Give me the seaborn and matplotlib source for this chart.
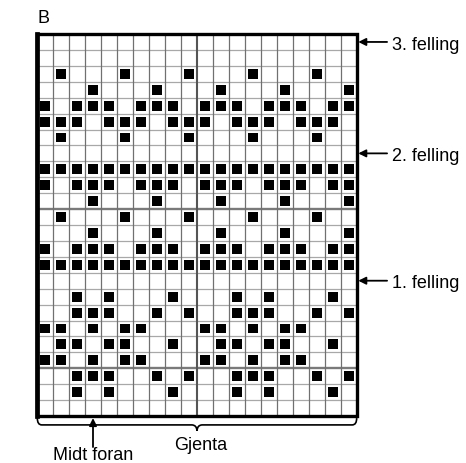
import numpy as np
import seaborn as sns
import matplotlib.pyplot as plt
from matplotlib.colors import ListedColormap
from matplotlib.patches import Rectangle, PathPatch
from matplotlib.path import Path

# chart B, top row first, '#' = black square
pattern = [
    "....................",
    "....................",
    ".#...#...#...#...#..",
    "...#...#...#...#...#",
    "#.###.###.###.###.##",
    "###.###.###.###.###.",
    ".#...#...#...#...#..",
    "....................",
    "####################",
    "#.###.###.###.###.##",
    "...#...#...#...#...#",
    ".#...#...#...#...#..",
    "...#...#...#...#...#",
    "#.###.###.###.###.##",
    "####################",
    "....................",
    "..#.#...#...#.#...#.",
    "..###..#.#..###..#.#",
    "##.#.##...##.#.##...",
    ".##.##..#..##.##..#.",
    "##.#.##...##.#.##...",
    "..###..#.#..###..#.#",
    "..#.#...#...#.#...#.",
    "....................",
]
felling_rows = [1, 8, 16]
felling_labels = ['3. felling', '2. felling', '1. felling']
thick_rows = [11, 21]
mid_front_col = 4
panel_label = 'B'
repeat_label = 'Gjenta'
mid_front_label = 'Midt foran'

grid = np.array([[1 if c == '#' else 0 for c in row] for row in pattern])
n_rows, n_cols = grid.shape

plt.rcParams['font.family'] = ['Liberation Sans', 'DejaVu Sans']
fig = plt.figure(figsize=(4.66, 4.64), dpi=100)
ax = fig.add_axes([37 / 466, 47 / 464, 320 / 466, 382 / 464])

# white cell borders make the black squares sit inset in their cells
sns.heatmap(grid, cmap=ListedColormap(['white', 'black']), vmin=0, vmax=1, cbar=False,
            linewidths=3.1, linecolor='white', xticklabels=False, yticklabels=False, ax=ax)
ax.tick_params(length=0)

# grid lines
for y in range(1, n_rows):
    if y in thick_rows:
        ax.axhline(y, color='#7a7a7a', lw=1.7)
    else:
        ax.axhline(y, color='#a8a8a8', lw=0.9)
for x in range(1, n_cols):
    if x == n_cols // 2:
        ax.axvline(x, color='#555555', lw=1.5)
    else:
        ax.axvline(x, color='#707070', lw=0.9)

# outer frame
ax.add_patch(Rectangle((0, 0), n_cols, n_rows, fill=False, ec='black', lw=2.4,
                       clip_on=False, zorder=5))
ax.plot([0, 0], [0, n_rows], color='black', lw=3.4, clip_on=False, zorder=5)

ax.text(0.05, -0.75, panel_label, fontsize=13, ha='left', va='baseline')

# felling arrows on the right
arrow = dict(arrowstyle='-|>', color='black', lw=1.3, mutation_scale=11, shrinkA=0, shrinkB=0)
for r, lab in zip(felling_rows, felling_labels):
    y = r - 0.5
    ax.annotate('', xy=(n_cols + 0.08, y), xytext=(n_cols + 1.88, y),
                arrowprops=arrow, annotation_clip=False)
    ax.text(n_cols + 2.19, y + 0.42, lab, fontsize=13, ha='left', va='baseline')

# brace under the chart
b = n_rows
verts = [(0.02, b + 0.13), (0.02, b + 0.56), (0.3, b + 0.56),
         (9.67, b + 0.56), (9.98, b + 0.56), (10.0, b + 0.93),
         (10.02, b + 0.56), (10.33, b + 0.56),
         (19.7, b + 0.56), (19.98, b + 0.56), (19.98, b + 0.13)]
codes = [Path.MOVETO, Path.CURVE3, Path.CURVE3,
         Path.LINETO, Path.CURVE3, Path.CURVE3,
         Path.CURVE3, Path.CURVE3,
         Path.LINETO, Path.CURVE3, Path.CURVE3]
ax.add_patch(PathPatch(Path(verts, codes), fill=False, ec='black', lw=1.2, clip_on=False))
ax.text(10.2, b + 2.1, repeat_label, fontsize=13, ha='center', va='baseline')

# midt foran arrow
xm = mid_front_col - 0.5
ax.annotate('', xy=(xm, b + 0.13), xytext=(xm, b + 1.95),
            arrowprops=arrow, annotation_clip=False)
ax.text(xm, b + 2.7, mid_front_label, fontsize=13, ha='center', va='baseline')

fig.savefig('out.png', dpi=100)
